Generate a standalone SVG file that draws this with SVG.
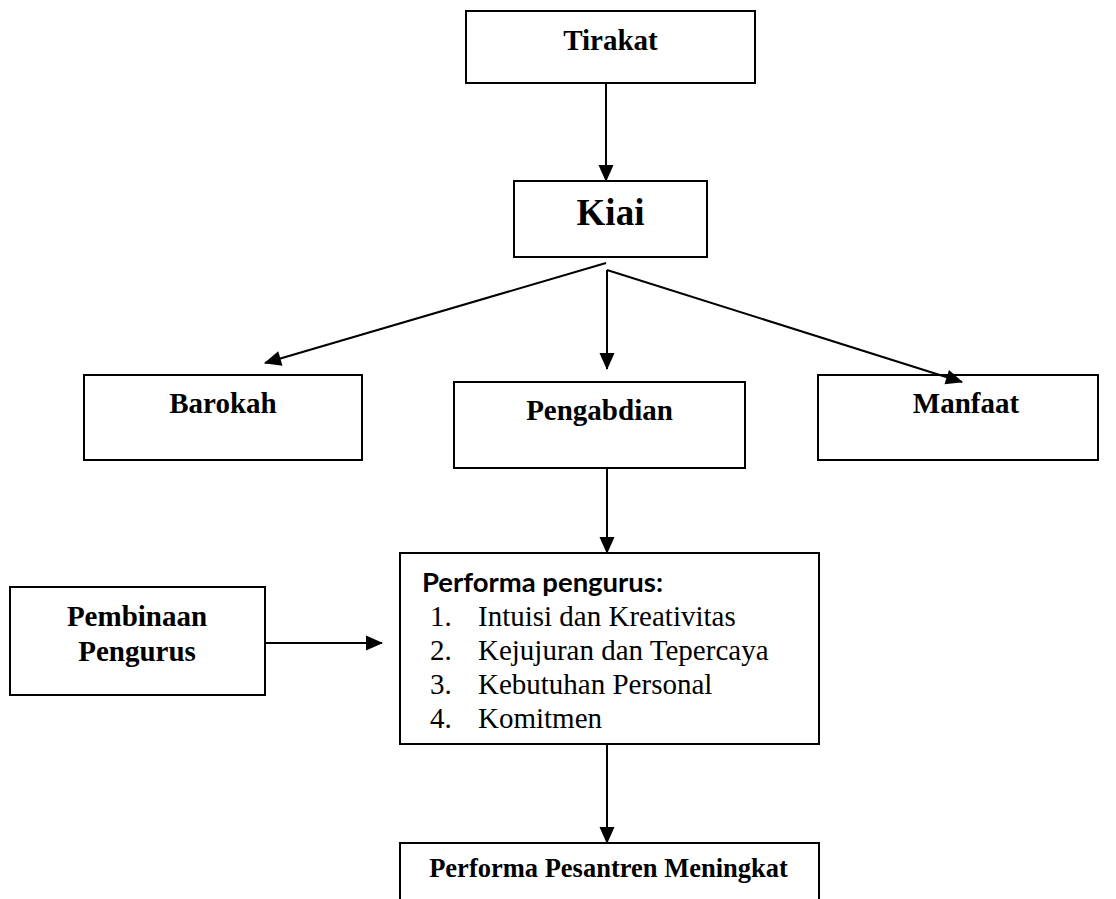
<svg xmlns="http://www.w3.org/2000/svg" width="1116" height="899" viewBox="0 0 1116 899">
<style>
.box{fill:#fff;stroke:#000;stroke-width:2}
.lbl{font-family:"Liberation Serif","Times New Roman",serif;font-weight:bold;font-size:29px;fill:#000;text-anchor:middle}
.item{font-family:"Liberation Serif","Times New Roman",serif;font-size:29px;fill:#000}
.con{stroke:#000;stroke-width:2;fill:none;marker-end:url(#ah)}
</style>
<defs>
<marker id="ah" viewBox="0 0 17 15" refX="16" refY="7.5" markerWidth="17" markerHeight="15" orient="auto" markerUnits="userSpaceOnUse" overflow="visible">
<path d="M0,0 L17,7.5 L0,15 z" fill="#000" stroke="none"/>
</marker>
</defs>
<rect width="1116" height="899" fill="#fff"/>
<g id="tirakat">
<rect class="box" x="466" y="11" width="289" height="72"/>
<text class="lbl" x="610.5" y="50">Tirakat</text>
</g>
<g id="kiai">
<rect class="box" x="514" y="181" width="193" height="76"/>
<text class="lbl" x="610.5" y="225" style="font-size:37px">Kiai</text>
</g>
<g id="barokah">
<rect class="box" x="84" y="375" width="278" height="85"/>
<text class="lbl" x="223" y="413">Barokah</text>
</g>
<g id="pengabdian">
<rect class="box" x="454" y="382" width="291" height="86"/>
<text class="lbl" x="599.5" y="420">Pengabdian</text>
</g>
<g id="manfaat">
<rect class="box" x="818" y="375" width="280" height="85"/>
<text class="lbl" x="966" y="413">Manfaat</text>
</g>
<g id="pembinaan">
<rect class="box" x="10" y="587" width="255" height="108"/>
<text class="lbl" x="137" y="626">Pembinaan</text>
<text class="lbl" x="137" y="661">Pengurus</text>
</g>
<g id="performa">
<rect class="box" x="400" y="553" width="419" height="191"/>
<text x="422" y="592" font-family="Lato,'Open Sans','Liberation Sans',sans-serif" font-weight="bold" font-size="27" textLength="241" lengthAdjust="spacingAndGlyphs">Performa pengurus:</text>
<text class="item" x="430" y="626">1.</text>
<text class="item" x="478" y="626">Intuisi dan Kreativitas</text>
<text class="item" x="430" y="660">2.</text>
<text class="item" x="478" y="660">Kejujuran dan Tepercaya</text>
<text class="item" x="430" y="694">3.</text>
<text class="item" x="478" y="694">Kebutuhan Personal</text>
<text class="item" x="430" y="728">4.</text>
<text class="item" x="478" y="728">Komitmen</text>
</g>
<g id="pesantren">
<path d="M400,905 L400,843 L819,843 L819,905" fill="#fff" stroke="#000" stroke-width="2"/>
<text class="lbl" x="608.5" y="877" style="font-size:26.5px">Performa Pesantren Meningkat</text>
</g>
<g id="connectors">
<line class="con" x1="606" y1="83" x2="606" y2="181"/>
<line class="con" x1="606" y1="263" x2="265" y2="363"/>
<line class="con" x1="607" y1="270" x2="607" y2="369"/>
<line class="con" x1="607" y1="270" x2="962" y2="382"/>
<line class="con" x1="607" y1="468" x2="607" y2="553"/>
<line class="con" x1="265" y1="643" x2="382" y2="643"/>
<line class="con" x1="607" y1="744" x2="607" y2="843"/>
</g>
</svg>
